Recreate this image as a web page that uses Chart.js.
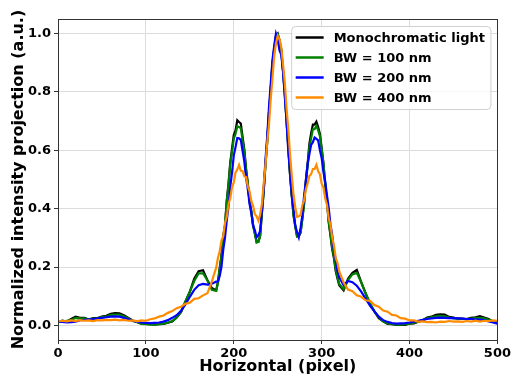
<!DOCTYPE html>
<html>
<head>
<meta charset="utf-8">
<script src="https://cdn.jsdelivr.net/npm/chart.js@4.4.0/dist/chart.umd.min.js"></script>
<style>
  body { margin: 0; background: #fff; }
  #wrap { width: 513px; height: 376px; }
</style>
</head>
<body>
<div id="wrap"><canvas id="myChart" width="513" height="376"></canvas></div>
<script>
// horizontal positions (pixel) where the profiles were read
const horizontal = [
  0, 5, 10, 15, 20, 25, 30, 35, 40, 45, 50, 55, 60, 65, 70, 75, 80, 85, 90, 95,
  100, 105, 110, 115, 120, 125, 130, 135, 140, 145, 150, 155, 160, 165, 170, 175, 180,
  182, 184, 186, 188, 190, 192, 194, 196, 198, 200, 202, 204, 206, 208, 210,
  212, 214, 216, 218, 220, 222, 224, 226, 228, 230, 232, 234, 236, 238, 240,
  242, 244, 246, 248, 250, 252, 254, 256, 258, 260, 262, 264, 266, 268, 270,
  272, 274, 276, 278, 280, 282, 284, 286, 288, 290, 292, 294, 296, 298, 300,
  302, 304, 306, 308, 310, 312, 314, 316, 318,
  320, 325, 330, 335, 340, 345, 350, 355, 360, 365, 370, 375, 380, 385, 390, 395,
  400, 405, 410, 415, 420, 425, 430, 435, 440, 445, 450, 455, 460, 465, 470, 475,
  480, 485, 490, 495, 500
];

const monochromatic = [
  0.012, 0.016, 0.013, 0.022, 0.030, 0.026, 0.026, 0.020, 0.025, 0.025, 0.030, 0.033, 0.040, 0.042, 0.041, 0.035, 0.026, 0.017, 0.012, 0.006,
  0.005, 0.004, 0.003, 0.004, 0.005, 0.009, 0.013, 0.027, 0.045, 0.082, 0.115, 0.160, 0.186, 0.189, 0.155, 0.128, 0.120,
  0.150, 0.198, 0.241, 0.306, 0.342, 0.428, 0.486, 0.559, 0.606, 0.652, 0.668, 0.703, 0.697, 0.692, 0.647,
  0.603, 0.536, 0.487, 0.426, 0.392, 0.344, 0.316, 0.286, 0.287, 0.308, 0.386, 0.458, 0.549, 0.628, 0.726,
  0.808, 0.896, 0.948, 0.992, 1.000, 0.978, 0.946, 0.874, 0.802, 0.704, 0.616, 0.518, 0.446, 0.378, 0.340,
  0.305, 0.306, 0.318, 0.366, 0.418, 0.496, 0.554, 0.622, 0.658, 0.688, 0.688, 0.698, 0.680, 0.656, 0.608,
  0.556, 0.484, 0.426, 0.354, 0.309, 0.261, 0.230, 0.186, 0.161,
  0.138, 0.120, 0.160, 0.180, 0.190, 0.148, 0.110, 0.073, 0.048, 0.025, 0.014, 0.005, 0.004, 0.002, 0.003, 0.002,
  0.006, 0.007, 0.013, 0.018, 0.027, 0.030, 0.036, 0.038, 0.037, 0.029, 0.027, 0.023, 0.023, 0.022, 0.026, 0.028,
  0.032, 0.027, 0.022, 0.013, 0.011
];

const bw100 = [
  0.012, 0.013, 0.016, 0.018, 0.026, 0.024, 0.024, 0.020, 0.023, 0.024, 0.029, 0.030, 0.036, 0.037, 0.037, 0.031, 0.024, 0.015, 0.011, 0.005,
  0.004, 0.003, 0.003, 0.004, 0.006, 0.009, 0.015, 0.027, 0.047, 0.082, 0.116, 0.152, 0.178, 0.178, 0.155, 0.122, 0.118,
  0.145, 0.193, 0.236, 0.299, 0.341, 0.424, 0.481, 0.552, 0.594, 0.640, 0.656, 0.682, 0.680, 0.676, 0.636,
  0.596, 0.531, 0.482, 0.424, 0.389, 0.341, 0.314, 0.284, 0.286, 0.306, 0.384, 0.456, 0.549, 0.628, 0.724,
  0.806, 0.892, 0.944, 0.989, 0.998, 0.974, 0.944, 0.872, 0.799, 0.701, 0.614, 0.516, 0.444, 0.376, 0.339,
  0.306, 0.307, 0.318, 0.364, 0.414, 0.489, 0.546, 0.609, 0.641, 0.672, 0.673, 0.684, 0.668, 0.649, 0.604,
  0.556, 0.486, 0.429, 0.358, 0.314, 0.266, 0.236, 0.191, 0.166,
  0.142, 0.124, 0.155, 0.175, 0.180, 0.148, 0.110, 0.077, 0.048, 0.028, 0.014, 0.007, 0.004, 0.003, 0.003, 0.004,
  0.006, 0.009, 0.013, 0.018, 0.024, 0.028, 0.031, 0.033, 0.031, 0.027, 0.024, 0.023, 0.022, 0.022, 0.023, 0.025,
  0.026, 0.024, 0.019, 0.013, 0.009
];

const bw200 = [
  0.012, 0.012, 0.010, 0.011, 0.013, 0.018, 0.019, 0.021, 0.022, 0.024, 0.026, 0.028, 0.030, 0.031, 0.030, 0.026, 0.021, 0.016, 0.012, 0.010,
  0.009, 0.008, 0.009, 0.010, 0.013, 0.018, 0.026, 0.035, 0.050, 0.072, 0.098, 0.122, 0.138, 0.142, 0.140, 0.143, 0.150,
  0.151, 0.169, 0.201, 0.259, 0.301, 0.359, 0.408, 0.476, 0.524, 0.582, 0.611, 0.642, 0.641, 0.636, 0.598,
  0.562, 0.506, 0.466, 0.416, 0.384, 0.342, 0.326, 0.302, 0.309, 0.324, 0.394, 0.466, 0.564, 0.646, 0.744,
  0.826, 0.909, 0.958, 1.000, 0.981, 0.942, 0.928, 0.872, 0.786, 0.704, 0.598, 0.524, 0.446, 0.396, 0.341,
  0.320, 0.302, 0.334, 0.376, 0.444, 0.494, 0.552, 0.586, 0.619, 0.628, 0.644, 0.639, 0.634, 0.601, 0.574,
  0.526, 0.494, 0.446, 0.404, 0.346, 0.309, 0.256, 0.224, 0.186,
  0.165, 0.138, 0.152, 0.148, 0.136, 0.116, 0.092, 0.068, 0.048, 0.030, 0.018, 0.012, 0.008, 0.006, 0.007, 0.008,
  0.010, 0.013, 0.016, 0.019, 0.022, 0.024, 0.026, 0.027, 0.026, 0.025, 0.025, 0.024, 0.023, 0.022, 0.022, 0.021,
  0.020, 0.018, 0.014, 0.010, 0.006
];

const bw400 = [
  0.014, 0.016, 0.014, 0.017, 0.015, 0.018, 0.016, 0.017, 0.015, 0.018, 0.017, 0.019, 0.018, 0.020, 0.017, 0.019, 0.016, 0.017, 0.014, 0.017,
  0.016, 0.021, 0.024, 0.030, 0.034, 0.043, 0.049, 0.059, 0.064, 0.074, 0.078, 0.091, 0.093, 0.103, 0.110, 0.150, 0.198,
  0.232, 0.254, 0.291, 0.306, 0.351, 0.372, 0.416, 0.436, 0.474, 0.490, 0.524, 0.534, 0.550, 0.530, 0.529,
  0.511, 0.508, 0.476, 0.459, 0.426, 0.409, 0.381, 0.374, 0.359, 0.379, 0.416, 0.484, 0.546, 0.624, 0.686,
  0.774, 0.846, 0.924, 0.966, 0.992, 0.981, 0.954, 0.896, 0.834, 0.746, 0.674, 0.586, 0.514, 0.446, 0.404,
  0.372, 0.374, 0.378, 0.412, 0.428, 0.466, 0.486, 0.512, 0.518, 0.536, 0.536, 0.550, 0.528, 0.518, 0.486,
  0.472, 0.436, 0.414, 0.368, 0.344, 0.301, 0.274, 0.231, 0.214,
  0.185, 0.147, 0.123, 0.117, 0.103, 0.098, 0.086, 0.084, 0.070, 0.064, 0.051, 0.047, 0.036, 0.034, 0.025, 0.023,
  0.017, 0.017, 0.013, 0.014, 0.011, 0.012, 0.010, 0.013, 0.012, 0.015, 0.013, 0.014, 0.012, 0.015, 0.013, 0.016,
  0.013, 0.016, 0.015, 0.017, 0.016
];

const seriesLabels = ["Monochromatic light", "BW = 100 nm", "BW = 200 nm", "BW = 400 nm"];
const seriesColours = ["#000000", "#008000", "#0000ff", "#ff8c00"];
const yTicks = [0.0, 0.2, 0.4, 0.6, 0.8, 1.0];
const xTicks = [0, 100, 200, 300, 400, 500];

const FONT = "'DejaVu Sans', sans-serif";
const allSeries = [monochromatic, bw100, bw200, bw400];

// box round the plot and a matplotlib-style legend in the upper right
const framePlugin = {
  id: 'frame',
  afterDraw(chart) {
    const {ctx, chartArea: a} = chart;
    ctx.save();
    ctx.strokeStyle = '#333';
    ctx.lineWidth = 1;
    ctx.strokeRect(Math.round(a.left) + 0.5, Math.round(a.top) + 0.5, Math.round(a.right - a.left), Math.round(a.bottom - a.top));

    ctx.font = 'bold 13px ' + FONT;
    let textW = 0;
    seriesLabels.forEach(l => { textW = Math.max(textW, ctx.measureText(l).width); });
    const rowH = 20;
    const w = 4 + 28 + 10 + textW + 6;
    const h = rowH * seriesLabels.length + 3;
    const x0 = a.right - 6.5 - w;
    const y0 = a.top + 7.5;
    ctx.beginPath();
    ctx.roundRect(x0, y0, w, h, 4);
    ctx.fillStyle = 'rgba(255,255,255,0.8)';
    ctx.fill();
    ctx.strokeStyle = '#d0d0d0';
    ctx.stroke();
    seriesLabels.forEach((l, i) => {
      const cy = y0 + 11 + i * rowH;
      ctx.beginPath();
      ctx.moveTo(x0 + 4, cy);
      ctx.lineTo(x0 + 32, cy);
      ctx.strokeStyle = seriesColours[i];
      ctx.lineWidth = 2.5;
      ctx.stroke();
      ctx.fillStyle = '#000';
      ctx.textBaseline = 'middle';
      ctx.textAlign = 'left';
      ctx.fillText(l, x0 + 42, cy + 1);
    });
    ctx.restore();
  }
};

var ctx = document.getElementById('myChart').getContext('2d');
var chart = new Chart(ctx, {
  type: 'line',
  data: {
    datasets: allSeries.map((s, i) => ({
      label: seriesLabels[i],
      data: horizontal.map((x, j) => ({x: x, y: s[j]})),
      borderColor: seriesColours[i],
      backgroundColor: seriesColours[i],
      borderWidth: 2.2,
      pointRadius: 0,
      fill: false,
      tension: 0,
      order: allSeries.length - i
    }))
  },
  options: {
    responsive: false,
    animation: false,
    layout: { padding: { top: 19, right: 14, left: 0, bottom: 0 } },
    plugins: { legend: { display: false }, tooltip: { enabled: false } },
    scales: {
      x: {
        type: 'linear',
        min: 0,
        max: 500,
        afterBuildTicks: (scale) => { scale.ticks = xTicks.map(v => ({value: v})); },
        afterFit: (scale) => { scale.height = 36; },
        ticks: { color: '#000', font: { family: FONT, size: 13, weight: 'bold' }, padding: 2, maxRotation: 0 },
        grid: { color: '#dcdcdc', tickColor: '#333', tickLength: 4 },
        border: { display: false },
        title: { display: true, text: 'Horizontal (pixel)', color: '#000', font: { family: FONT, size: 16, weight: 'bold' }, padding: 0 }
      },
      y: {
        min: -0.05,
        max: 1.05,
        afterBuildTicks: (scale) => { scale.ticks = yTicks.map(v => ({value: v})); },
        afterFit: (scale) => { scale.width = 58; },
        ticks: { color: '#000', font: { family: FONT, size: 13, weight: 'bold' }, padding: 3, callback: (v) => v.toFixed(1) },
        grid: { color: '#dcdcdc', tickColor: '#333', tickLength: 4 },
        border: { display: false },
        title: { display: true, text: 'Normalized intensity projection (a.u.)', color: '#000', font: { family: FONT, size: 16, weight: 'bold' }, padding: { top: 9, bottom: 0 } }
      }
    }
  },
  plugins: [framePlugin]
});
</script>
</body>
</html>
